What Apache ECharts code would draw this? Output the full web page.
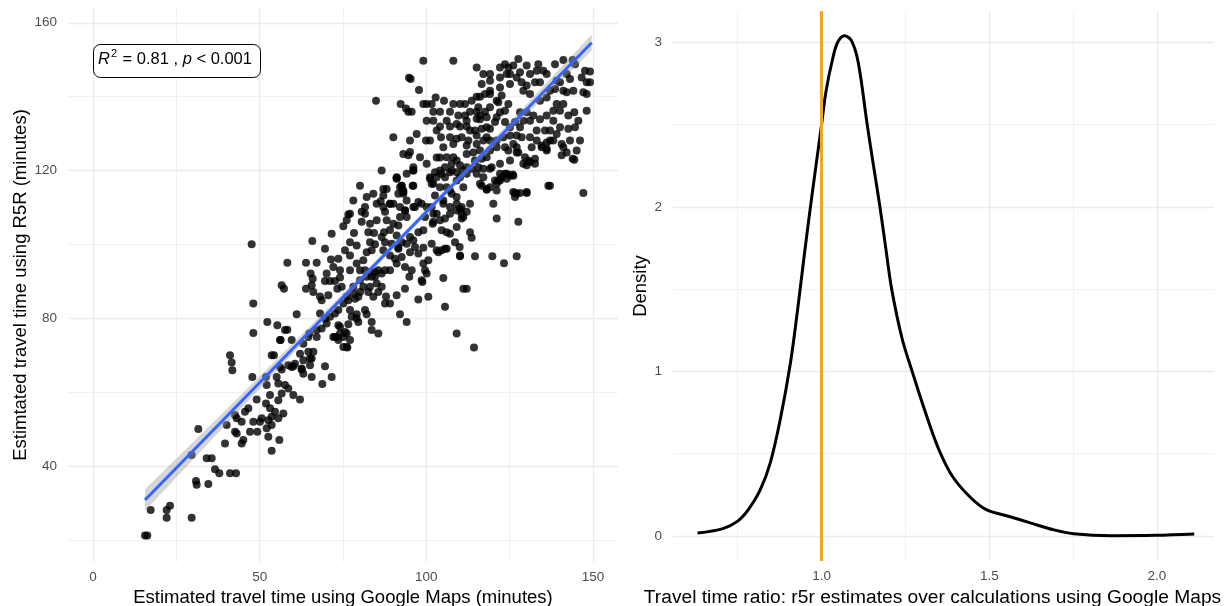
<!DOCTYPE html>
<html>
<head>
<meta charset="utf-8">
<title>R5R vs Google Maps travel times</title>
<script src="https://cdn.jsdelivr.net/npm/echarts@6.0.0/dist/echarts.min.js"></script>
<style>
  html, body { margin: 0; padding: 0; background: #fff; }
  #chart { width: 1231px; height: 606px; }
</style>
</head>
<body>
<div id="chart"></div>
<script>
// [google maps minutes, r5r minutes]
const travelPairs = [
  [48.1,76.0],[56.1,74.1],[59.6,74.1],[57.6,76.8],[67.1,76.8],[73.1,74.9],[75.1,74.9],[76.1,72.2],
  [41.1,70.0],[41.6,68.0],[41.8,65.9],[53.6,70.0],[54.3,70.0],[47.8,64.1],[51.9,64.1],
  [56.6,66.1],[60.1,67.0],[62.6,66.1],[63.1,65.0],[65.6,64.1],[66.1,70.9],[65.1,69.1],[65.1,67.3],[69.6,67.0],[71.6,64.1],[68.8,62.2],
  [55.1,64.1],[55.6,62.3],[57.6,61.9],[58.6,61.0],[60.1,59.2],[62.1,58.0],[56.6,59.6],[55.6,57.8],[53.1,59.2],[52.1,61.9],
  [49.1,58.0],[51.9,56.9],[53.1,55.6],[54.6,54.7],[55.6,52.9],[57.1,54.2],[53.6,53.3],[52.6,52.4],[50.6,52.9],[50.1,52.0],
  [48.1,52.0],[46.6,55.6],[45.6,54.7],[42.6,53.8],[43.1,52.9],[44.6,52.0],[40.1,51.1],[42.6,49.3],[43.1,48.8],[47.1,49.3],
  [49.3,49.3],[52.1,50.2],[53.6,51.1],[52.6,47.9],[55.9,47.0],[53.6,44.1],[45.1,47.0],[44.6,46.1],[39.6,46.1],[31.6,50.0],
  [29.6,43.0],[34.1,42.1],[35.6,42.1],[36.6,39.1],[37.9,38.0],[41.1,38.0],[42.9,38.0],[30.9,35.9],[31.1,34.9],[34.6,35.1],
  [23.1,29.2],[22.1,28.1],[22.1,26.0],[17.3,28.1],[29.6,26.0],[15.6,21.2],[16.3,21.2],
  [47.6,100.0],[48.1,84.0],[65.8,100.9],[58.3,95.0],[56.6,88.9],[57.3,88.0],[52.3,79.0],[55.3,78.1],[56.3,74.1],[58.3,76.9],
  [61.1,81.1],[63.9,95.0],[67.1,95.0],[71.4,95.9],
  [65.3,92.1],[65.9,90.7],[63.9,88.0],[65.6,88.9],[66.1,87.1],[68.1,85.9],[69.6,90.1],[71.1,90.1],[72.6,90.1],[74.1,91.0],
  [74.6,88.5],[73.3,88.0],[70.6,86.2],[68.6,84.9],
  [68.1,81.3],[69.6,79.9],[68.6,77.2],[67.1,74.9],[64.9,75.9],[64.6,70.9],[65.6,69.1],[63.1,68.6],[60.6,67.7],[59.6,66.8],[62.6,66.4],
  [72.6,81.3],[73.6,78.1],[74.1,75.9],[72.6,74.9],[73.6,74.1],[75.1,72.2],[76.3,72.1],[75.6,76.3],[76.6,78.4],[77.6,80.4],
  [79.1,81.1],[79.6,79.0],[76.6,84.9],[78.6,85.3],[78.1,88.5],
  [75.1,104.9],[76.1,106.5],[76.6,108.1],[78.3,103.1],[80.6,106.1],[80.6,108.8],[81.6,110.1],[81.6,108.3],[80.1,115.9],[82.6,103.3],
  [84.3,103.1],[85.1,111.0],[86.3,111.7],[87.1,110.1],[87.6,108.8],[88.1,115.0],[89.1,111.0],[90.1,111.0],[91.1,117.8],[91.6,113.7],
  [92.6,115.9],[93.1,114.6],[94.1,111.9],[93.6,109.2],[96.1,115.9],[96.6,110.1],[97.6,111.5],[94.1,107.4],[91.6,105.1],[89.1,103.9],
  [91.1,102.4],[87.3,103.3],[84.6,100.0],[83.1,100.6],[82.1,97.9],[83.6,98.4],[81.1,95.7],[79.1,94.8],[77.1,93.0],[80.1,93.0],
  [81.6,93.0],[83.1,92.5],[83.6,91.2],[84.6,91.2],[85.6,93.0],[86.6,92.1],[87.6,93.0],[85.1,89.4],[83.1,88.5],[81.1,88.5],
  [80.1,87.1],[79.6,85.8],[82.6,87.1],[84.1,85.8],[85.6,87.1],[86.6,88.5],[87.9,85.9],[87.6,84.0],[89.1,84.0],[91.1,86.2],
  [93.6,88.0],[94.9,91.2],[95.6,93.0],[93.6,93.9],[91.1,94.8],[92.6,96.6],[90.6,96.1],[89.1,97.0],[87.1,98.4],[87.6,100.6],
  [89.6,100.2],[91.6,99.1],[92.6,100.6],[94.1,100.2],[95.1,97.9],[96.1,101.1],[96.6,99.3],[97.6,97.5],[99.1,99.1],[99.1,94.8],
  [99.6,93.0],[100.6,95.7],[101.6,100.2],[101.9,105.6],[103.1,108.3],[104.6,103.8],[105.6,98.8],[107.1,102.9],[110.1,97.0],[111.1,88.0],
  [105.6,83.1],[100.6,85.8],[97.6,85.1],[98.6,90.3],[94.1,79.0],[92.1,81.1],[83.6,79.0],[85.6,75.9],[83.6,76.8],[81.6,82.2],
  [82.1,81.1],[109.1,75.9],
  [137.1,115.9],[147.1,113.9],[126.6,113.9],[128.1,113.9],[130.1,113.9],[126.6,112.8],[127.6,106.1],[121.1,107.0],[120.1,111.0],
  [110.1,96.8],[114.6,96.8],[119.8,96.8],[123.3,94.9],[127.1,96.8],[112.1,88.0],[114.3,72.1],[113.1,103.3],[113.6,101.8],
  [116.6,115.9],[118.1,114.8],[121.1,114.6],[121.6,117.3],[124.1,117.8],[125.9,118.9],[122.1,119.1],[119.1,120.5],[115.1,119.1],
  [129.1,121.8],[132.6,121.8],[130.6,122.7],[140.6,124.1],[144.4,122.9],[136.1,125.4],[142.1,124.9],[127.1,124.9],
  [110.6,110.1],[110.6,108.3],[113.1,111.0],[109.1,109.2],[105.6,107.0],[103.6,97.9],[106.1,98.8],[100.1,92.1],[98.8,89.8],[105.1,90.9],
  [99.1,149.7],[108.1,149.7],[95.3,144.8],[97.8,141.8],[92.3,138.0],[94.6,135.9],[95.6,135.9],[99.1,138.0],[100.1,138.0],[101.6,138.0],
  [102.8,139.8],[105.3,138.9],[108.1,138.0],[110.1,138.0],[111.6,138.0],[113.6,138.9],[115.1,140.0],[116.1,140.0],
  [102.1,135.9],[104.1,135.9],[107.1,135.9],[109.6,134.9],[111.6,134.9],[113.1,135.9],[115.1,135.9],[117.6,135.9],[116.1,133.9],
  [104.1,131.9],[107.1,131.9],[110.1,131.9],[112.1,131.9],[113.1,130.8],[114.6,130.8],[116.6,131.3],[118.1,131.7],[119.1,131.3],
  [120.6,133.1],[122.1,135.8],[121.6,138.5],[122.6,140.3],[124.6,138.0],[123.6,136.2],
  [104.4,129.0],[107.1,129.0],[109.1,128.6],[110.6,129.0],[112.6,128.1],[115.1,129.5],[118.1,129.0],[119.1,128.1],[121.1,128.1],
  [123.1,129.0],[125.1,129.5],[126.6,133.1],[128.1,131.7],[129.1,133.5],[131.1,133.5],[130.1,135.8],[128.1,135.8],[132.1,134.9],
  [134.1,133.9],[136.1,134.9],
  [103.1,123.5],[104.1,123.5],[105.6,120.9],[107.6,121.8],[109.1,122.7],[112.1,124.5],[114.1,124.9],[116.1,125.4],[118.1,123.6],
  [121.1,126.3],[123.6,126.3],[126.1,127.2],[127.6,124.9],[129.6,123.6],[131.1,122.3],[132.6,123.2],[130.1,121.4],[125.1,122.7],
  [122.1,121.8],[119.6,120.9],[117.1,120.5],
  [133.1,130.8],[135.6,130.8],[137.1,130.8],[137.1,128.1],[138.1,128.1],[139.1,129.9],[140.1,131.7],[138.1,133.5],[140.1,136.2],
  [139.1,138.0],[138.1,136.2],[141.1,138.0],[142.6,134.9],[144.4,135.8],[142.6,131.3],[141.1,126.3],[143.9,123.2],[136.6,115.9],
  [140.6,127.2],[134.6,126.3],[136.1,125.9],
  [115.1,147.9],[117.1,146.1],[119.1,146.1],[122.1,147.9],[123.6,148.8],[124.6,147.9],[126.1,148.4],[127.6,150.2],[130.1,148.4],
  [131.1,146.1],[133.6,148.8],[135.1,147.0],[134.1,143.9],[132.6,143.9],[130.1,143.0],[128.6,143.9],[127.1,145.2],[125.1,146.1],
  [122.1,145.2],[119.1,144.3],[116.6,143.4],[117.6,140.7],[119.1,140.7],[115.6,137.1],[116.1,134.9],[138.6,148.8],[141.1,149.9],
  [143.9,149.9],[144.6,148.8],[142.1,146.1],[140.1,143.9],[138.6,142.1],[141.1,141.6],[142.1,141.2],[144.1,141.6],[147.1,141.2],
  [146.6,145.2],[147.6,147.0],[149.1,146.8],[148.1,143.9],[149.1,143.9],[143.1,144.8],
  [90.1,129.0],[94.6,124.1],[95.1,125.0],[96.1,120.0],[95.9,115.9],[91.1,118.2],[92.1,115.5],[93.1,113.7],[99.9,128.1],
  [102.6,119.5],[104.1,120.0],[105.6,118.2],[107.6,120.0],[109.1,119.5],[110.1,118.2],[112.1,119.1],[113.6,120.5],[115.6,120.9],
  [117.1,118.2],[119.1,115.5],[120.6,117.3],[122.1,117.3],[123.6,119.1],[125.1,118.6],[126.1,118.6],
  [101.1,118.2],[102.1,116.4],[104.1,115.5],[106.1,115.5],[107.6,113.7],[109.1,112.8],[105.1,111.0],[107.1,110.1],[110.1,109.6],
  [112.1,108.8],[116.1,116.4],[118.1,115.0],[121.1,116.4],[122.6,118.2],[124.1,119.1],[126.1,114.2],[127.1,113.7],[130.1,114.2],
  [92.6,115.9],[93.1,114.2],[89.1,111.0],[92.1,110.1],[93.6,109.2],[96.1,110.1],[98.6,111.0],[100.1,110.1],[102.1,108.3],
  [84.9,138.9],[93.9,136.8],[94.8,145.1],
  [107.1,119.5],[104.6,119.1],[109.1,117.3],[111.1,115.5],[107.1,114.6],[105.1,111.9],[109.1,111.0],[111.1,107.4],[107.1,108.3],
  [104.1,106.5],[101.6,110.1],[102.6,113.2],[101.6,116.4],[103.1,118.2],[111.1,120.0],[103.1,98.4],[104.6,98.4],[110.0,99.3],
  [108.6,100.6],[86.6,120.0],[96.1,120.0],[91.1,118.0],[87.1,115.0],
  [101.1,117.8],[99.6,107.4],[102.1,106.1],[106.1,103.3],[109.1,104.7],[110.6,107.0],[99.1,103.8],[97.6,103.3],[95.1,102.0],
  [91.6,98.8],[89.1,93.0],[84.6,92.5],[82.1,91.2],[80.1,90.3],[78.1,86.7],[76.1,85.8],[75.1,84.0],[73.6,82.2],[71.1,80.4],
  [70.1,78.6],[77.1,82.2],[79.1,79.9],[74.1,77.7],[72.1,74.9],[76.1,75.9],[77.1,74.1],[64.6,74.9],[63.1,73.1],[62.1,70.4],
  [58.6,67.3],[56.1,66.8],
  [119.1,137.1],[121.1,134.4],[123.6,133.1],[125.1,131.7],[127.1,129.5],[128.6,129.0],[131.1,129.0],[133.1,128.1],[134.6,126.8],
  [136.1,127.6],[131.6,126.3],[127.1,126.3],[124.6,125.4],[119.1,125.4],[116.6,123.2],[114.6,122.7],[112.1,120.9],[110.1,121.4],
  [108.1,123.6],[106.1,123.6],[105.1,126.3],[108.1,127.2],[112.1,126.8],[115.1,127.2],[117.1,128.1],[109.1,132.6],[106.1,133.5],
  [112.1,133.5],[118.1,134.4],[115.1,134.0],[121.1,138.9],[119.1,141.6],[122.1,142.5],[125.1,143.4],[129.1,141.6],[131.1,140.7],
  [134.1,138.9],[136.1,139.8],[137.1,141.6],[139.1,144.3],[136.1,146.1],[133.1,147.0],[128.1,146.6],[124.1,146.1],[143.1,128.1],
  [145.1,125.4],[146.1,128.1],[144.6,131.7],[145.6,133.5],[148.1,136.2],[148.1,140.7],[103.1,130.8],[101.1,128.1],[102.1,133.5],
  [100.1,133.5],[97.1,129.9],[95.1,128.1],[93.1,124.5],[98.1,123.6],[100.1,121.8],[96.1,120.9],[94.1,119.1],
  [77.1,100.6],[79.1,99.7],[75.6,98.4],[77.1,97.0],[73.6,96.1],[72.1,93.9],[74.1,93.0],[70.1,92.1],[71.6,102.9],[69.6,98.8],
  [86.6,102.0],[88.1,106.5],[85.1,106.5],[83.1,105.6],[90.1,105.6],[92.1,107.4],[87.1,113.2],[84.1,113.7],[82.1,112.8],
  [78.1,111.9],[77.1,108.3]
];

// linear fit and its confidence band
const fitX = [15.6, 149.6];
const fitY = [30.8, 154.6];
const bandX = [15.6, 40, 70, 90, 110, 130, 149.6];
const bandLo = [27.9, 51.3, 80.0, 98.7, 117.1, 135.1, 152.4];
const bandHi = [33.7, 55.3, 82.2, 100.3, 118.9, 137.9, 156.8];

// density of the travel time ratio
const ratioX = [0.630,0.706,0.751,0.781,0.817,0.847,0.877,0.907,0.927,0.948,0.970,1.000,1.013,1.033,1.048,1.068,1.089,1.109,
  1.136,1.154,1.174,1.192,1.209,1.240,1.270,1.300,1.330,1.355,1.391,1.441,1.491,1.562,1.622,1.693,1.751,1.864,1.995,2.111];
const ratioDensity = [0.018,0.045,0.092,0.158,0.28,0.444,0.71,1.05,1.35,1.70,2.05,2.5,2.70,2.90,3.00,3.04,3.01,2.88,
  2.50,2.26,2.00,1.74,1.50,1.20,1.00,0.81,0.63,0.50,0.36,0.24,0.16,0.117,0.08,0.037,0.014,0.002,0.004,0.012];
const refRatio = 1;

// ticks
const leftXTicks = [0, 50, 100, 150];
const leftXMinor = [25, 75, 125];
const leftYTicks = [40, 80, 120, 160];
const leftYMinor = [20, 60, 100, 140];
const rightXTicks = [1.0, 1.5, 2.0];
const rightXMinor = [0.75, 1.25, 1.75];
const rightYTicks = [0, 1, 2, 3];
const rightYMinor = [0.5, 1.5, 2.5];

const FONT = '"Liberation Sans", Arial, sans-serif';
const GRID = '#EBEBEB';

function axis(kind, grid, min, max, ticks, opt) {
  opt = opt || {};
  return {
    type: 'value',
    gridIndex: grid,
    position: opt.position,
    min: min,
    max: max,
    name: opt.name || '',
    nameLocation: 'middle',
    nameGap: opt.nameGap || 0,
    nameTextStyle: { fontFamily: FONT, fontSize: opt.nameSize || 18.5, color: '#000', padding: opt.namePad || 0 },
    axisLine: { show: false },
    axisTick: { show: false, customValues: ticks },
    axisLabel: {
      show: !opt.minor,
      customValues: ticks,
      fontFamily: FONT,
      fontSize: 13.5,
      color: '#4D4D4D',
      margin: kind === 'x' ? 8 : 11,
      formatter: opt.fmt
    },
    splitLine: { show: true, lineStyle: { color: GRID, width: opt.minor ? 0.7 : 1.3 } }
  };
}

const chart = echarts.init(document.getElementById('chart'), null, { renderer: 'canvas' });

chart.setOption({
  animation: false,
  backgroundColor: '#fff',
  grid: [
    { left: 68, right: 613, top: 8, bottom: 44, outerBoundsMode: 'none' },
    { left: 673, right: 17, top: 11, bottom: 45, outerBoundsMode: 'none' }
  ],
  xAxis: [
    axis('x', 0, -7.5, 157.5, leftXTicks, { name: 'Estimated travel time using Google Maps (minutes)', nameGap: 24, position: 'bottom' }),
    axis('x', 0, -7.5, 157.5, leftXMinor, { minor: true, position: 'top' }),
    axis('x', 1, 0.557, 2.17, rightXTicks, { name: 'Travel time ratio: r5r estimates over calculations using Google Maps', nameGap: 24, nameSize: 19.2, position: 'bottom', namePad: [0, 22, 0, 0], fmt: v => v.toFixed(1) }),
    axis('x', 1, 0.557, 2.17, rightXMinor, { minor: true, position: 'top' })
  ],
  yAxis: [
    axis('y', 0, 14, 164, leftYTicks, { name: 'Estimtated travel time using R5R (minutes)', nameGap: 38, position: 'left' }),
    axis('y', 0, 14, 164, leftYMinor, { minor: true, position: 'right' }),
    axis('y', 1, -0.152, 3.19, rightYTicks, { name: 'Density', nameGap: 21, position: 'left' }),
    axis('y', 1, -0.152, 3.19, rightYMinor, { minor: true, position: 'right' })
  ],
  graphic: [
    {
      type: 'rect',
      left: 93, top: 44,
      shape: { width: 167, height: 33, r: 7 },
      style: { fill: '#fff', stroke: '#000', lineWidth: 1 },
      z: 100
    },
    {
      type: 'text',
      left: 98, top: 48,
      style: {
        text: '{i|R}{s|2}{n| = 0.81 , }{i|p}{n| < 0.001}',
        fill: '#000',
        rich: {
          i: { fontFamily: FONT, fontSize: 16.5, fontStyle: 'italic', fill: '#000', verticalAlign: 'bottom' },
          s: { fontFamily: FONT, fontSize: 11, fill: '#000', padding: [0, 1, 9, 1], verticalAlign: 'bottom' },
          n: { fontFamily: FONT, fontSize: 16.5, fill: '#000', verticalAlign: 'bottom' }
        }
      },
      z: 101
    }
  ],
  series: [
    {
      type: 'custom',
      xAxisIndex: 0, yAxisIndex: 0,
      silent: true,
      data: [0],
      z: 3,
      renderItem: function (params, api) {
        const pts = [];
        for (let i = 0; i < bandX.length; i++) pts.push(api.coord([bandX[i], bandHi[i]]));
        for (let i = bandX.length - 1; i >= 0; i--) pts.push(api.coord([bandX[i], bandLo[i]]));
        return { type: 'polygon', shape: { points: pts }, style: { fill: 'rgba(153,153,153,0.4)' } };
      }
    },
    {
      type: 'scatter',
      xAxisIndex: 0, yAxisIndex: 0,
      data: travelPairs,
      symbolSize: 8,
      itemStyle: { color: '#000', opacity: 0.8 },
      z: 2
    },
    {
      type: 'line',
      xAxisIndex: 0, yAxisIndex: 0,
      data: fitX.map((x, i) => [x, fitY[i]]),
      showSymbol: false,
      lineStyle: { color: '#3366FF', width: 3 },
      z: 4
    },
    {
      type: 'line',
      xAxisIndex: 2, yAxisIndex: 2,
      data: ratioX.map((x, i) => [x, ratioDensity[i]]),
      smooth: 0.35,
      showSymbol: false,
      lineStyle: { color: '#000', width: 3 },
      markLine: {
        silent: true,
        symbol: ['none', 'none'],
        label: { show: false },
        lineStyle: { color: '#FFA500', width: 3, type: 'solid' },
        data: [{ xAxis: refRatio }]
      }
    }
  ]
});
</script>
</body>
</html>
